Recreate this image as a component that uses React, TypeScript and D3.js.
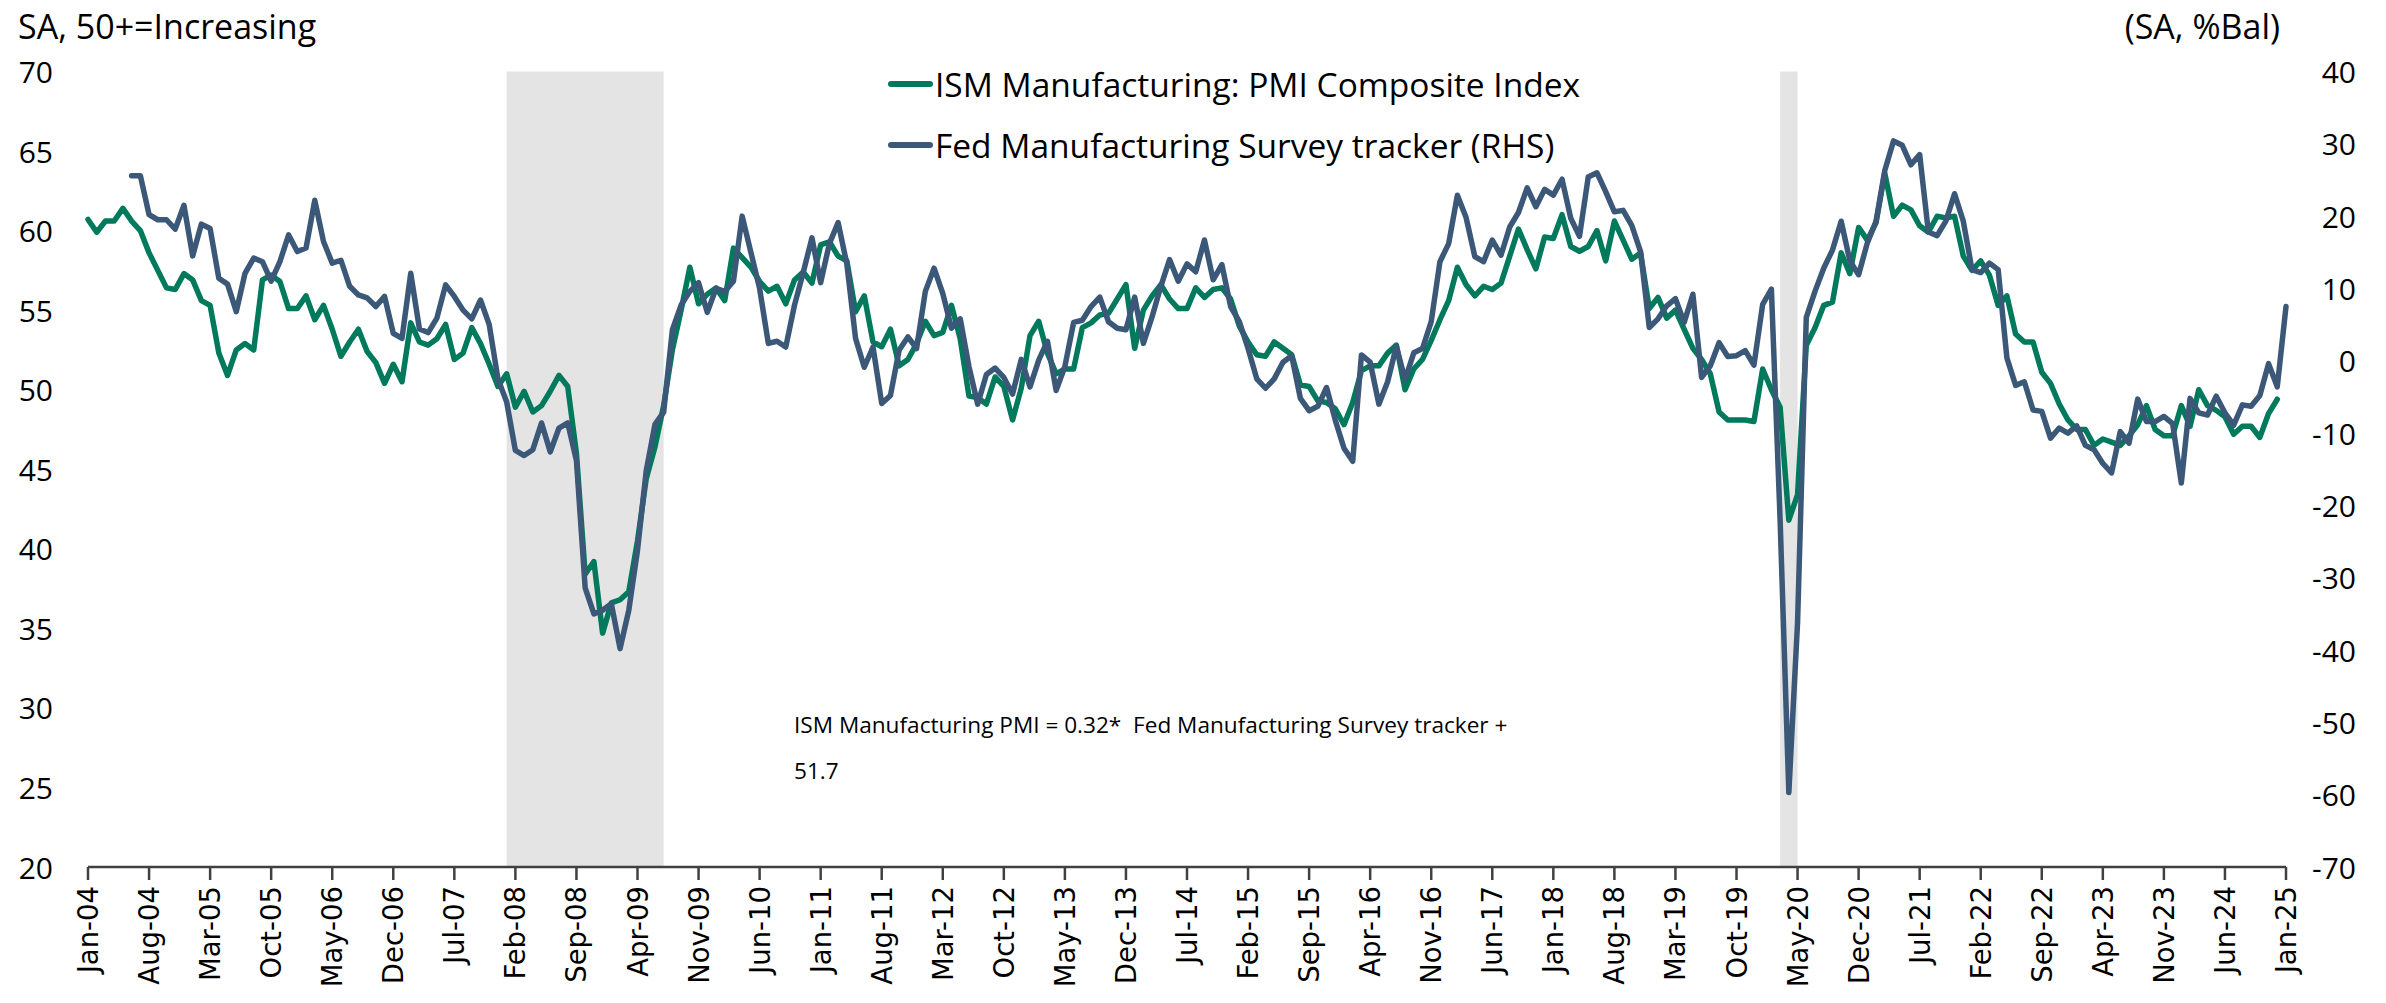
import React from "react";
import * as d3 from "d3";

// ---------- DATA ----------
const months: Date[] = d3.timeMonth.range(new Date(2004, 0, 1), new Date(2025, 1, 1));
const categories: string[] = months.map((d) => d3.timeFormat("%b-%y")(d));

// ISM Manufacturing PMI (Jan-04 .. Dec-24)
const ismPMI: number[] = [
  60.7, 59.9, 60.6, 60.6, 61.4, 60.6, 60.0, 58.6, 57.5, 56.4, 56.3, 57.3,
  56.9, 55.6, 55.3, 52.3, 50.9, 52.5, 52.9, 52.5, 56.9, 57.2, 56.8, 55.1,
  55.1, 55.9, 54.4, 55.3, 53.8, 52.1, 53.0, 53.8, 52.4, 51.7, 50.4, 51.6,
  50.5, 54.2, 53.0, 52.8, 53.2, 54.1, 51.9, 52.3, 53.9, 52.9, 51.6, 50.2,
  51.0, 48.9, 49.9, 48.6, 49.0, 49.9, 50.9, 50.2, 46.0, 38.4, 39.2, 34.7,
  36.6, 36.8, 37.3, 40.5, 44.4, 46.4, 49.0, 52.5, 55.0, 57.7, 55.4, 56.0,
  56.4, 55.6, 58.9, 58.3, 57.7, 56.8, 56.2, 56.5, 55.4, 56.9, 57.4, 56.7,
  59.1, 59.3, 58.4, 58.1, 54.9, 55.9, 53.0, 52.7, 53.8, 51.5, 51.9, 52.9,
  54.3, 53.4, 53.6, 55.3, 53.2, 49.6, 49.5, 49.1, 50.8, 50.2, 48.1, 50.1,
  53.4, 54.3, 52.3, 51.0, 51.3, 51.3, 53.9, 54.2, 54.7, 54.8, 55.7, 56.6,
  52.6, 55.0, 55.9, 56.6, 55.7, 55.1, 55.1, 56.4, 55.8, 56.3, 56.4, 55.7,
  54.0, 53.0, 52.2, 52.1, 53.0, 52.6, 52.2, 50.3, 50.2, 49.3, 49.2, 48.8,
  47.8, 49.2, 51.2, 51.5, 51.5, 52.3, 52.8, 50.0, 51.3, 51.9, 53.1, 54.4,
  55.6, 57.7, 56.6, 55.9, 56.5, 56.3, 56.7, 58.4, 60.1, 58.8, 57.6, 59.6,
  59.5, 61.0, 59.0, 58.7, 59.0, 60.0, 58.1, 60.6, 59.4, 58.2, 58.6, 55.1,
  55.8, 54.5, 55.0, 53.8, 52.6, 51.9, 51.0, 48.6, 48.1, 48.1, 48.1, 48.0,
  51.3, 50.0, 48.9, 41.8, 43.4, 52.8, 53.9, 55.3, 55.5, 58.6, 57.3, 60.2,
  59.4, 60.5, 63.6, 60.9, 61.6, 61.3, 60.3, 59.9, 60.9, 60.8, 60.9, 58.4,
  57.5, 58.1, 57.2, 55.3, 55.9, 53.5, 53.0, 53.0, 51.1, 50.4, 49.1, 48.1,
  47.5, 47.5, 46.5, 46.9, 46.7, 46.5, 47.1, 47.8, 49.0, 47.5, 47.1, 47.1,
  49.0, 47.7, 50.0, 49.0, 48.7, 48.3, 47.2, 47.7, 47.7, 47.0, 48.5, 49.4,
];

// Fed Manufacturing Survey tracker, %Bal (Jan-04 .. Jan-25), starts Jun-04
const fedTracker: (number | null)[] = [
  null, null, null, null, null, 25.6, 25.6, 20.2, 19.5, 19.5, 18.2, 21.5,
  14.5, 18.9, 18.3, 11.4, 10.6, 6.8, 12.1, 14.2, 13.7, 11.0, 13.7, 17.4,
  15.1, 15.6, 22.2, 16.5, 13.5, 13.9, 10.3, 9.1, 8.7, 7.5, 8.9, 3.8,
  3.1, 12.1, 4.4, 3.9, 5.9, 10.5, 8.9, 7.0, 5.8, 8.4, 5.0, -2.5,
  -5.7, -12.4, -13.1, -12.3, -8.6, -12.6, -9.3, -8.6, -13.8, -31.4, -35.0, -34.5,
  -33.6, -39.8, -34.5, -26.2, -15.2, -8.8, -7.1, 4.3, 7.7, 9.6, 10.8, 6.7,
  10.0, 9.6, 11.0, 20.0, 15.0, 10.0, 2.4, 2.7, 1.9, 7.7, 12.2, 17.0,
  10.8, 16.2, 19.1, 13.4, 3.1, -0.9, 1.9, -5.9, -4.8, 1.5, 3.3, 1.7,
  9.6, 12.8, 9.3, 4.5, 5.8, -0.8, -6.0, -1.9, -1.0, -2.3, -4.6, 0.2,
  -3.6, 0.1, 2.7, -4.1, -0.8, 5.3, 5.6, 7.5, 8.8, 5.4, 4.5, 4.3,
  8.8, 2.4, 6.1, 10.3, 14.0, 11.0, 13.4, 12.3, 16.7, 11.2, 13.3, 7.5,
  5.4, 1.7, -2.5, -3.8, -2.5, -0.2, 0.7, -5.2, -6.9, -6.3, -3.7, -8.2,
  -12.1, -13.9, 0.8, -0.2, -6.0, -2.9, 2.0, -2.6, 1.1, 1.7, 5.4, 13.7,
  16.2, 22.9, 19.8, 14.4, 13.7, 16.7, 14.6, 18.5, 20.5, 23.9, 21.3, 23.7,
  22.9, 25.1, 19.7, 17.2, 25.4, 26.0, 23.4, 20.6, 20.8, 18.7, 15.1, 4.6,
  5.8, 7.6, 8.6, 5.3, 9.2, -2.3, -0.7, 2.5, 0.6, 0.7, 1.4, -0.6,
  7.8, 9.9, -22.0, -59.7, -36.2, 6.0, 9.6, 12.8, 15.3, 19.3, 13.8, 11.9,
  16.3, 19.3, 26.3, 30.4, 29.8, 27.1, 28.5, 17.8, 17.3, 19.3, 23.1, 19.3,
  12.6, 12.2, 13.5, 12.6, 0.4, -3.4, -2.9, -6.8, -7.0, -10.7, -9.3, -10.0,
  -9.0, -11.7, -12.3, -14.2, -15.5, -9.8, -11.4, -5.3, -8.4, -8.4, -7.7, -8.7,
  -16.9, -5.2, -7.2, -7.5, -4.9, -7.2, -8.9, -6.1, -6.3, -4.8, -0.4, -3.6,
  7.5,
];

const xTickLabels: string[] = [
  "Jan-04", "Aug-04", "Mar-05", "Oct-05", "May-06", "Dec-06", "Jul-07", "Feb-08",
  "Sep-08", "Apr-09", "Nov-09", "Jun-10", "Jan-11", "Aug-11", "Mar-12", "Oct-12",
  "May-13", "Dec-13", "Jul-14", "Feb-15", "Sep-15", "Apr-16", "Nov-16", "Jun-17",
  "Jan-18", "Aug-18", "Mar-19", "Oct-19", "May-20", "Dec-20", "Jul-21", "Feb-22",
  "Sep-22", "Apr-23", "Nov-23", "Jun-24", "Jan-25",
];
const leftTicks: number[] = [20, 25, 30, 35, 40, 45, 50, 55, 60, 65, 70];
const rightTicks: number[] = [-70, -60, -50, -40, -30, -20, -10, 0, 10, 20, 30, 40];
const recessions: [string, string][] = [["Dec-07", "Jun-09"], ["Feb-20", "Apr-20"]];

const seriesNames = ["ISM Manufacturing: PMI Composite Index", "Fed Manufacturing Survey tracker (RHS)"];
const annotationLines = ["ISM Manufacturing PMI = 0.32*  Fed Manufacturing Survey tracker +", "51.7"];

// ---------- CHART ----------
const GREEN = "#00795C";
const BLUE = "#3B5878";
const FONT = "'Open Sans', 'Noto Sans', sans-serif";

export default function App() {
  const W = 2386;
  const H = 1003;
  const x = d3.scaleLinear().domain([0, categories.length - 1]).range([88, 2286]);
  const yL = d3.scaleLinear().domain([20, 70]).range([867, 71.5]);
  const yR = d3.scaleLinear().domain([-70, 40]).range([867, 71.5]);

  const ismLine = d3
    .line<number>()
    .x((_, i) => x(i))
    .y((d) => yL(d))(ismPMI) as string;

  const fedLine = d3
    .line<number | null>()
    .defined((d) => d != null)
    .x((_, i) => x(i))
    .y((d) => yR(d as number))(fedTracker) as string;

  const idx = (lbl: string) => categories.indexOf(lbl);

  return (
    <svg
      width={W}
      height={H}
      style={{ position: "absolute", left: 0, top: 0, background: "#fff" }}
      fontFamily={FONT}
    >
      {/* recession shading */}
      {recessions.map(([s, e], i) => (
        <rect
          key={i}
          x={x(idx(s) + 1)}
          y={yL(70)}
          width={x(idx(e) + 1) - x(idx(s) + 1)}
          height={yL(20) - yL(70)}
          fill="#E4E4E4"
        />
      ))}

      {/* left axis labels */}
      {leftTicks.map((t) => (
        <text key={t} x={53} y={yL(t)} textAnchor="end" dominantBaseline="central" fontSize={30} fill="#000">
          {t}
        </text>
      ))}
      {/* right axis labels */}
      {rightTicks.map((t) => (
        <text key={t} x={2356} y={yR(t)} textAnchor="end" dominantBaseline="central" fontSize={30} fill="#000">
          {t}
        </text>
      ))}

      {/* axis titles */}
      <text x={18} y={39} fontSize={34} fill="#000">SA, 50+=Increasing</text>
      <text x={2280} y={39} fontSize={34} textAnchor="end" fill="#000">(SA, %Bal)</text>

      {/* x axis */}
      <line x1={x(0)} x2={x(categories.length - 1)} y1={yL(20)} y2={yL(20)} stroke="#404040" strokeWidth={2.5} />
      {xTickLabels.map((l) => {
        const xi = x(idx(l));
        return (
          <g key={l}>
            <line x1={xi} x2={xi} y1={yL(20)} y2={yL(20) + 13} stroke="#404040" strokeWidth={2.5} />
            <text
              transform={`translate(${xi},${yL(20) + 19}) rotate(-90)`}
              textAnchor="end"
              dominantBaseline="central"
              fontSize={27.5}
              fontFamily="'DejaVu Sans', Verdana, sans-serif"
              fill="#000"
            >
              {l}
            </text>
          </g>
        );
      })}

      {/* series */}
      <path d={ismLine} fill="none" stroke={GREEN} strokeWidth={5.5} strokeLinejoin="round" strokeLinecap="round" />
      <path d={fedLine} fill="none" stroke={BLUE} strokeWidth={5.5} strokeLinejoin="round" strokeLinecap="round" />

      {/* legend */}
      {seriesNames.map((n, i) => {
        const cy = 84 + i * 61;
        return (
          <g key={n}>
            <line x1={891} x2={930} y1={cy} y2={cy} stroke={i === 0 ? GREEN : BLUE} strokeWidth={6} strokeLinecap="round" />
            <text x={935} y={cy} dominantBaseline="central" fontSize={33.5} fill="#000">
              {n}
            </text>
          </g>
        );
      })}

      {/* annotation */}
      {annotationLines.map((t, i) => (
        <text key={i} x={794} y={724 + i * 46} dominantBaseline="central" fontSize={22.6} fill="#000" style={{ whiteSpace: "pre" }}>
          {t}
        </text>
      ))}
    </svg>
  );
}
